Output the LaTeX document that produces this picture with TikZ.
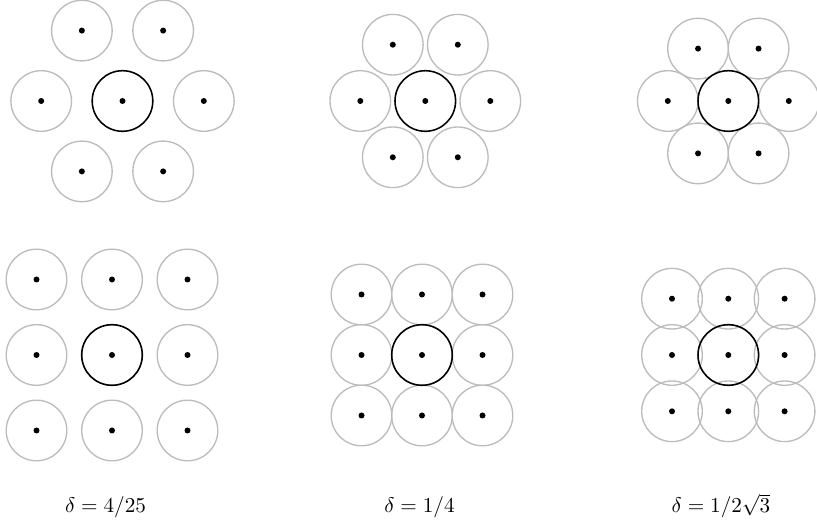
\documentclass[tikz,border=0pt]{standalone}
\begin{document}
\begin{tikzpicture}[x=0.74pt,y=-0.74pt,
  graycirc/.style={draw={rgb,255:red,188;green,188;blue,188}, line width=1pt},
  maincirc/.style={draw=black, line width=1.15pt},
  dotmark/.style={fill=black},
  lbl/.style={inner sep=0pt, anchor=base, scale=1.57}]
\useasboundingbox (0,0) rectangle (817,524);
% hexagonal arrangements
\foreach \cx/\cy/\s in {122.5/101/81.3, 425.3/101/65, 728.3/101/60.5}{
  \foreach \a in {0,60,...,300}{
    \draw[graycirc] ({\cx+\s*cos(\a)},{\cy+\s*sin(\a)}) circle[radius=30.3];
    \fill[dotmark] ({\cx+\s*cos(\a)},{\cy+\s*sin(\a)}) circle[radius=3];
  }
  \draw[maincirc] (\cx,\cy) circle[radius=30.3];
  \fill[dotmark] (\cx,\cy) circle[radius=3];
}
% square arrangements
\foreach \cx/\cy/\s in {112/355/75.5, 422/355/60.5, 728.3/355/56.3}{
  \foreach \i in {-1,0,1}{
    \foreach \j in {-1,0,1}{
      \draw[graycirc] ({\cx+\i*\s},{\cy+\j*\s}) circle[radius=30.3];
      \fill[dotmark] ({\cx+\i*\s},{\cy+\j*\s}) circle[radius=3];
    }
  }
  \draw[maincirc] (\cx,\cy) circle[radius=30.3];
}
\node[lbl] (l1) at (105.5,513) {$\delta=4/25$};
\node[lbl] (l2) at (419.5,513) {$\delta=1/4$};
\node[lbl] (l3) at (721,513) {$\delta=1/2\sqrt{3}$};
\end{tikzpicture}
\end{document}
